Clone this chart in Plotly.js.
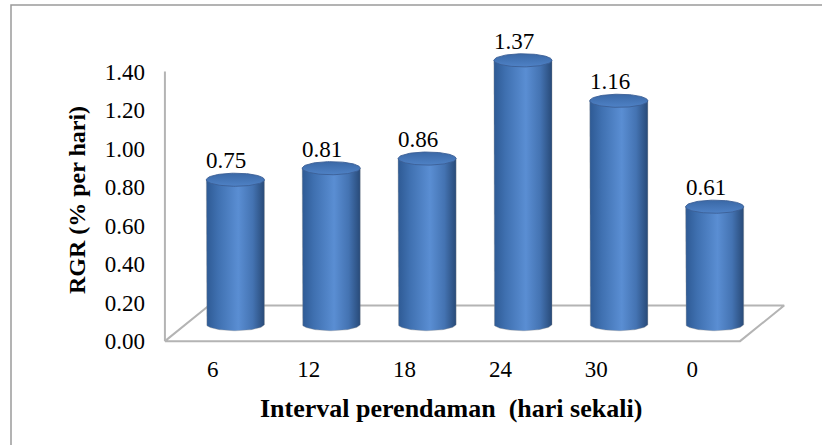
<!DOCTYPE html>
<html>
<head>
<meta charset="utf-8">
<script src="https://cdn.plot.ly/plotly-3.0.1.min.js"></script>
<style>
  html, body { margin: 0; padding: 0; background: #ffffff; }
  #chart { width: 822px; height: 445px; }
</style>
</head>
<body>
<div id="chart"></div>
<script>
// Relative growth rate per soaking interval
const categories = ['6', '12', '18', '24', '30', '0'];
const rgrValues = [0.75, 0.81, 0.86, 1.37, 1.16, 0.61];
const yTickValues = [0, 0.2, 0.4, 0.6, 0.8, 1.0, 1.2, 1.4];
const xTitle = 'Interval perendaman  (hari sekali)';
const yTitle = 'RGR (% per hari)';

// Pseudo-3D geometry, expressed in axis units
const FLOOR_DX = 0.46, FLOOR_DY = 0.185;   // depth of the floor plate
const BAR_DX = 0.235, BAR_DY = 0.088;      // cylinder axis sits mid-depth
const HALF_W = 0.303, ELL_RY = 0.034;      // cylinder radius / ellipse squash
const STEPS = 48;

const FONT = 'Liberation Serif';
const idx = categories.map((_, i) => i);

function cylinderBody(cx, base, top) {
  const x = [cx - HALF_W, cx - HALF_W];
  const y = [top, base];
  for (let k = 0; k <= STEPS; k++) {
    const t = Math.PI + Math.PI * k / STEPS;
    x.push(cx + HALF_W * Math.cos(t));
    y.push(base + ELL_RY * Math.sin(t));
  }
  x.push(cx + HALF_W, cx - HALF_W);
  y.push(top, top);
  return { x, y };
}

function cylinderTop(cx, top) {
  const x = [], y = [];
  for (let k = 0; k <= STEPS * 2; k++) {
    const t = 2 * Math.PI * k / (STEPS * 2);
    x.push(cx + HALF_W * Math.cos(t));
    y.push(top + ELL_RY * Math.sin(t));
  }
  return { x, y };
}

const traces = [];

// floor plate
traces.push({
  type: 'scatter', mode: 'lines', hoverinfo: 'skip', showlegend: false,
  x: [-0.5, categories.length - 0.5, categories.length - 0.5 + FLOOR_DX, -0.5 + FLOOR_DX, -0.5],
  y: [0, 0, FLOOR_DY, FLOOR_DY, 0],
  fill: 'toself', fillcolor: '#ffffff',
  line: { color: '#b4b4b4', width: 2 }
});

// value axis line
traces.push({
  type: 'scatter', mode: 'lines', hoverinfo: 'skip', showlegend: false,
  x: [-0.5, -0.5],
  y: [0, yTickValues[yTickValues.length - 1]],
  line: { color: '#b4b4b4', width: 2 }
});

// cylinders
idx.forEach(i => {
  const cx = i + BAR_DX;
  const base = BAR_DY;
  const top = rgrValues[i] + BAR_DY;
  const body = cylinderBody(cx, base, top);
  traces.push({
    type: 'scatter', mode: 'lines', hoverinfo: 'skip', showlegend: false,
    x: body.x, y: body.y, fill: 'toself',
    line: { color: 'rgba(140,140,140,0.35)', width: 1 },
    fillgradient: {
      type: 'horizontal',
      colorscale: [[0, '#2e5a94'], [0.2, '#3f70b0'], [0.55, '#5a8ed3'], [0.8, '#4473b2'], [1, '#284a78']]
    }
  });
  const cap = cylinderTop(cx, top);
  traces.push({
    type: 'scatter', mode: 'lines', hoverinfo: 'skip', showlegend: false,
    x: cap.x, y: cap.y, fill: 'toself',
    line: { color: 'rgba(60,95,150,0.9)', width: 1 },
    fillgradient: {
      type: 'vertical',
      colorscale: [[0, '#4f82c6'], [1, '#3a68a6']]
    }
  });
});

// value labels above each cylinder
const annotations = idx.map(i => ({
  x: i + BAR_DX, y: rgrValues[i] + BAR_DY,
  xref: 'x', yref: 'y',
  text: rgrValues[i].toFixed(2),
  showarrow: false,
  xshift: -9, yshift: 19,
  font: { family: FONT, size: 23, color: '#000000' }
}));

// axis titles
annotations.push({
  xref: 'paper', yref: 'paper', x: 0.461, y: -0.213,
  xanchor: 'center', yanchor: 'middle', showarrow: false,
  text: '<b>' + xTitle + '</b>',
  font: { family: FONT, size: 26, color: '#000000' }
});
annotations.push({
  xref: 'paper', yref: 'paper', x: -0.1376, y: 0.483,
  xanchor: 'center', yanchor: 'middle', showarrow: false, textangle: -90,
  text: '<b>' + yTitle + '</b>',
  font: { family: FONT, size: 24, color: '#000000' }
});

const layout = {
  width: 822, height: 445,
  margin: { l: 163, r: 34, t: 45, b: 100 },
  paper_bgcolor: '#ffffff', plot_bgcolor: 'rgba(0,0,0,0)',
  showlegend: false,
  font: { family: FONT },
  xaxis: {
    range: [-0.52, 6.0],
    tickvals: idx, ticktext: categories,
    showgrid: false, zeroline: false, showline: false,
    ticks: '', ticklabelstandoff: 8,
    tickfont: { family: FONT, size: 23, color: '#000000' },
    fixedrange: true
  },
  yaxis: {
    range: [-0.02, 1.5376],
    tickvals: yTickValues, tickformat: '.2f',
    showgrid: false, zeroline: false, showline: false,
    ticks: '', ticklabelstandoff: 17,
    tickfont: { family: FONT, size: 23, color: '#000000' },
    fixedrange: true
  },
  annotations: annotations,
  shapes: [{
    type: 'rect', xref: 'paper', yref: 'paper',
    x0: -0.2432, x1: 1.067, y0: -0.357, y1: 1.1333,
    line: { color: '#9a9a9a', width: 1.5 }, fillcolor: 'rgba(0,0,0,0)', layer: 'below'
  }]
};

Plotly.newPlot('chart', traces, layout, { staticPlot: true, displayModeBar: false });
</script>
</body>
</html>
